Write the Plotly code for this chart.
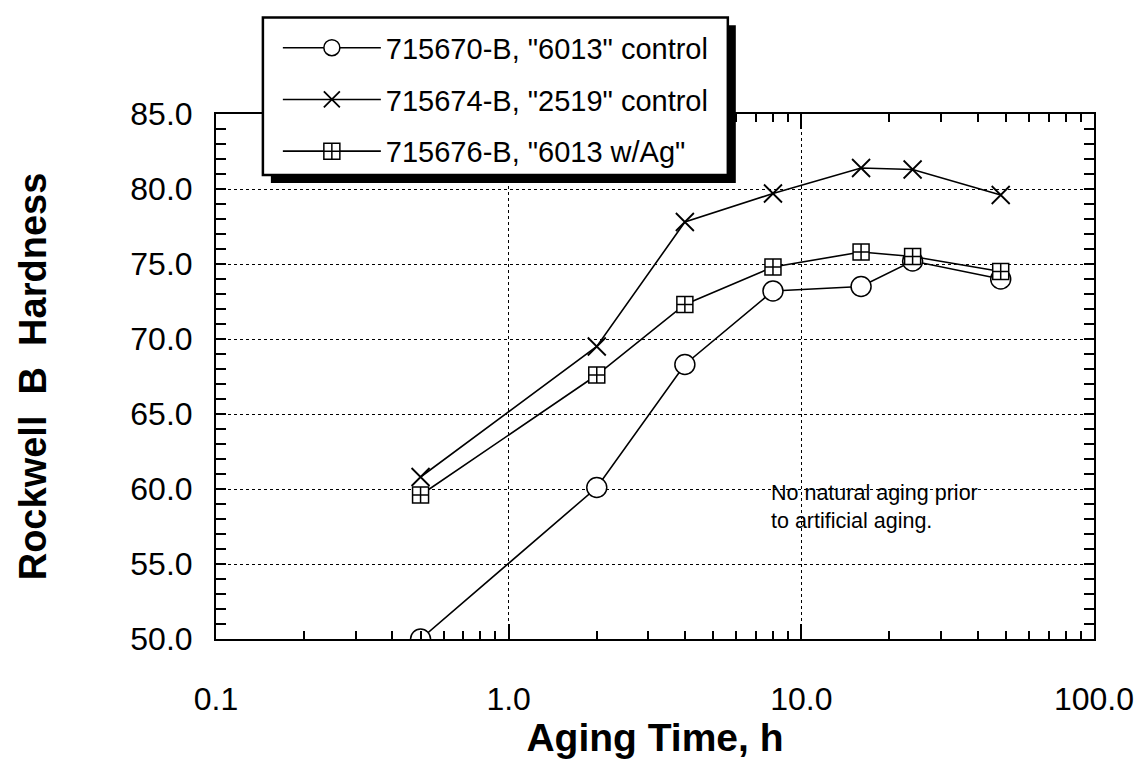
import plotly.graph_objects as go

# Aging times (h) and Rockwell B hardness for each alloy
aging_time_h = [0.5, 2, 4, 8, 16, 24, 48]
hardness_6013_control = [50.0, 60.1, 68.3, 73.2, 73.5, 75.2, 74.0]
hardness_2519_control = [60.8, 69.5, 77.8, 79.7, 81.4, 81.3, 79.6]
hardness_6013_ag = [59.6, 67.6, 72.3, 74.8, 75.8, 75.5, 74.5]

series_names = [
    '715670-B, "6013" control',
    '715674-B, "2519" control',
    '715676-B, "6013 w/Ag"',
]

x_tick_vals = [0.1, 1, 10, 100]
x_tick_text = ["0.1", "1.0", "10.0", "100.0"]

FONT = "Liberation Sans, Arial, Helvetica, sans-serif"

# plot-area pixel frame (used to place the legend box in paper units)
L, R, T, B = 216, 1096, 114, 647
W, H = 1146, 759


def px_x(p):
    return (p - L) / (R - L)


def px_y(p):
    return (B - p) / (B - T)


fig = go.Figure()

marker_styles = [
    dict(symbol="circle", size=20, color="white", line=dict(color="black", width=1.5)),
    dict(symbol="x-thin", size=18, color="black", line=dict(color="black", width=1.8)),
    dict(symbol="square-cross", size=16, color="white", line=dict(color="black", width=1.5)),
]
series_values = [hardness_6013_control, hardness_2519_control, hardness_6013_ag]

for i, (name, vals, mk) in enumerate(zip(series_names, series_values, marker_styles)):
    fig.add_trace(go.Scatter(
        x=aging_time_h, y=vals, name=name, mode="lines+markers",
        line=dict(color="black", width=1.6), marker=mk,
        legendgroup=f"g{i}",
    ))

# legend frame with a heavy drop shadow
fig.add_shape(type="rect", xref="paper", yref="paper",
              x0=px_x(271), x1=px_x(737), y0=px_y(184), y1=px_y(24),
              fillcolor="black", line=dict(width=0), layer="above")
fig.add_shape(type="rect", xref="paper", yref="paper",
              x0=px_x(263), x1=px_x(729), y0=px_y(176), y1=px_y(16),
              fillcolor="white", line=dict(color="black", width=2.5), layer="above")

fig.add_annotation(
    x=px_x(770), y=px_y(513), xref="paper", yref="paper",
    xanchor="left", yanchor="middle", align="left", showarrow=False,
    text="No natural aging prior<br>to artificial aging.",
    font=dict(family=FONT, size=21.5, color="black"),
)

fig.update_layout(
    width=W, height=H,
    margin=dict(l=L, r=W - R, t=T, b=H - B),
    paper_bgcolor="white", plot_bgcolor="white",
    font=dict(family=FONT, color="black"),
    showlegend=True,
    legend=dict(
        x=px_x(278), y=px_y(21), xanchor="left", yanchor="top",
        bgcolor="rgba(0,0,0,0)", borderwidth=0,
        font=dict(family=FONT, size=29, color="black"),
        itemwidth=98, tracegroupgap=11, traceorder="grouped",
    ),
    xaxis=dict(
        type="log", range=[-1, 2],
        tickvals=x_tick_vals, ticktext=x_tick_text,
        ticks="inside", ticklen=15, tickwidth=1.5, tickcolor="black",
        showline=True, linecolor="black", linewidth=2, mirror="allticks",
        showgrid=True, gridcolor="black", griddash="dot", gridwidth=1,
        tickfont=dict(family=FONT, size=32, color="black"),
        ticklabelstandoff=31,
        minor=dict(ticks="inside", ticklen=8, tickwidth=1.5, tickcolor="black",
                   dtick="D1", showgrid=False),
        zeroline=False,
        title=dict(text="<b>Aging Time, h</b>", standoff=2,
                   font=dict(family=FONT, size=39, color="black")),
    ),
    yaxis=dict(
        range=[50, 85], dtick=5, tick0=50, tickformat=".1f",
        ticks="inside", ticklen=10, tickwidth=1.5, tickcolor="black",
        showline=True, linecolor="black", linewidth=2, mirror="allticks",
        showgrid=True, gridcolor="black", griddash="dot", gridwidth=1,
        tickfont=dict(family=FONT, size=32, color="black"),
        ticklabelstandoff=15,
        minor=dict(ticks="inside", ticklen=10, tickwidth=1.5, tickcolor="black",
                   dtick=1, showgrid=False),
        zeroline=False,
        title=dict(text="<b>Rockwell  B  Hardness</b>", standoff=72,
                   font=dict(family=FONT, size=38, color="black")),
    ),
)

fig.write_html("out.html")
